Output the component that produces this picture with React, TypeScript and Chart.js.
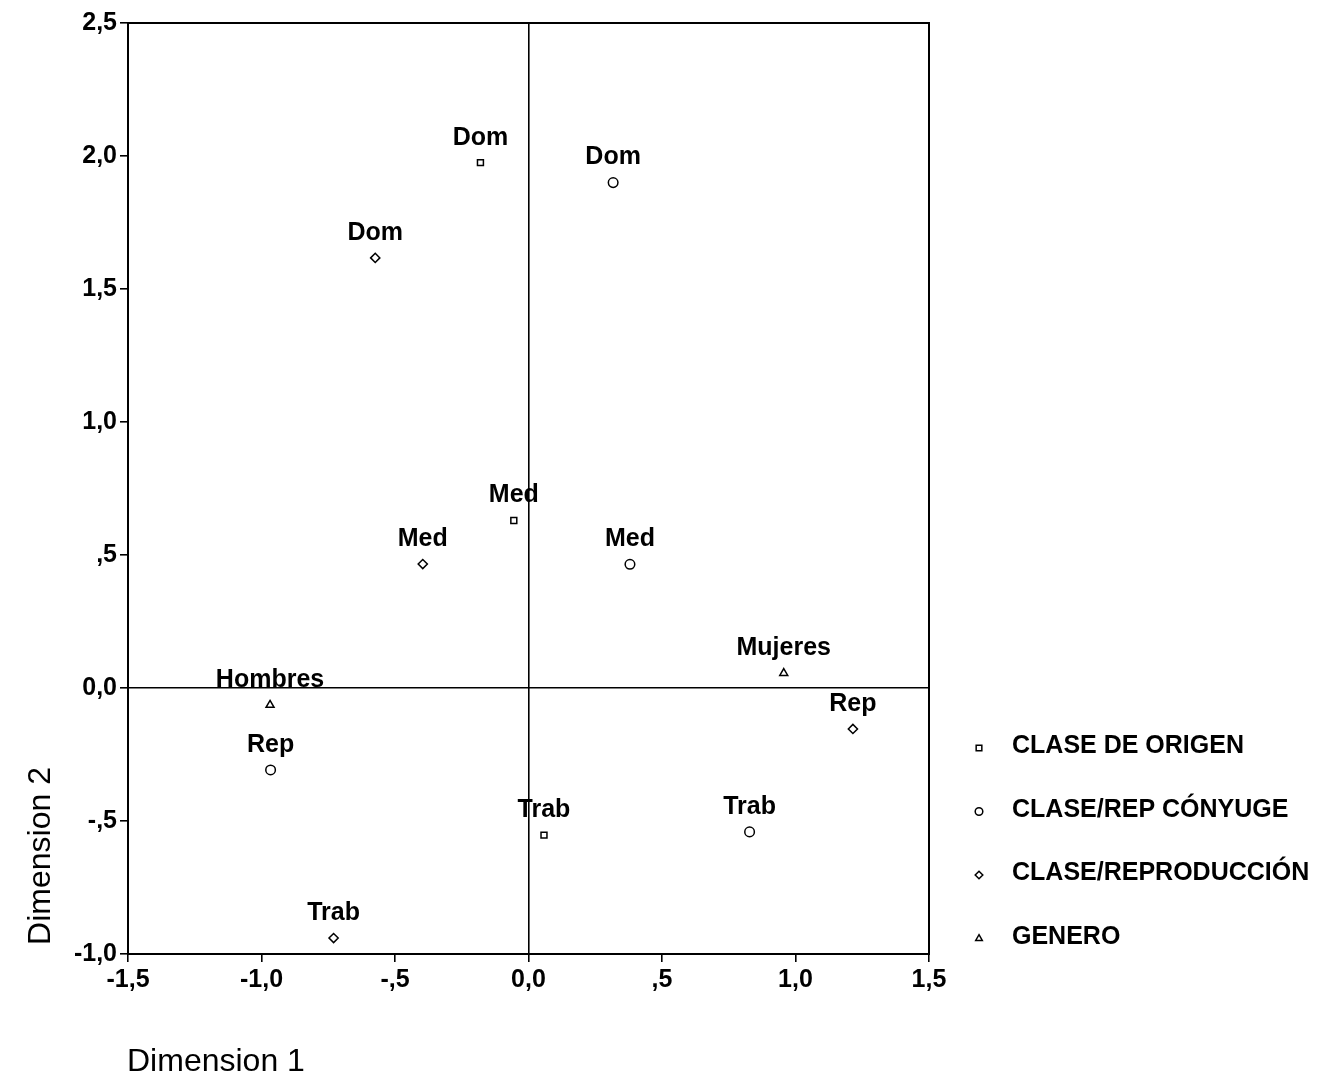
import React, { useEffect, useRef } from "react";
import { Chart, registerables } from "chart.js";

Chart.register(...registerables);

const seriesNames = ["CLASE DE ORIGEN", "CLASE/REP CÓNYUGE", "CLASE/REPRODUCCIÓN", "GENERO"];

const origenLabels = ["Dom", "Med", "Trab"];
const origenX = [-0.18, -0.055, 0.058];
const origenY = [1.975, 0.63, -0.553];

const conyugeLabels = ["Dom", "Med", "Rep", "Trab"];
const conyugeX = [0.317, 0.38, -0.966, 0.828];
const conyugeY = [1.9, 0.465, -0.308, -0.541];

const reproLabels = ["Dom", "Med", "Rep", "Trab"];
const reproX = [-0.574, -0.396, 1.215, -0.73];
const reproY = [1.617, 0.466, -0.154, -0.94];

const generoLabels = ["Hombres", "Mujeres"];
const generoX = [-0.968, 0.956];
const generoY = [-0.064, 0.056];

const xTickLabels = ["-1,5", "-1,0", "-,5", "0,0", ",5", "1,0", "1,5"];
const yTickLabels = ["-1,0", "-,5", "0,0", ",5", "1,0", "1,5", "2,0", "2,5"];

const xTitle = "Dimension 1";
const yTitle = "Dimension 2";

const FONT = "'Liberation Sans', Arial, Helvetica, sans-serif";
const pointStyles = ["rect", "circle", "rectRot", "triangle"];
const pointRadii = [4.2, 4.8, 4.6, 4.6];

function toPoints(xs: number[], ys: number[]) {
  return xs.map((x, i) => ({ x, y: ys[i] }));
}

function drawMarker(ctx: CanvasRenderingContext2D, style: string, x: number, y: number, r: number) {
  ctx.beginPath();
  if (style === "rect") {
    const s = r * Math.SQRT1_2;
    ctx.rect(x - s, y - s, 2 * s, 2 * s);
  } else if (style === "circle") {
    ctx.arc(x, y, r, 0, Math.PI * 2);
  } else if (style === "rectRot") {
    ctx.moveTo(x, y - r);
    ctx.lineTo(x + r, y);
    ctx.lineTo(x, y + r);
    ctx.lineTo(x - r, y);
    ctx.closePath();
  } else {
    ctx.moveTo(x, y - r);
    ctx.lineTo(x + r * 0.866, y + r * 0.5);
    ctx.lineTo(x - r * 0.866, y + r * 0.5);
    ctx.closePath();
  }
  ctx.fillStyle = "#fff";
  ctx.fill();
  ctx.strokeStyle = "#000";
  ctx.lineWidth = 1.5;
  ctx.stroke();
}

const decorPlugin = {
  id: "decor",
  afterDatasetsDraw(chart: any) {
    const ctx: CanvasRenderingContext2D = chart.ctx;
    const { left, right, top, bottom } = chart.chartArea;
    ctx.save();
    // frame
    ctx.strokeStyle = "#000";
    ctx.lineWidth = 2;
    ctx.strokeRect(left, top, right - left, bottom - top);
    // point labels
    ctx.fillStyle = "#000";
    ctx.font = `bold 25px ${FONT}`;
    ctx.textAlign = "center";
    ctx.textBaseline = "middle";
    chart.data.datasets.forEach((ds: any, di: number) => {
      const meta = chart.getDatasetMeta(di);
      meta.data.forEach((el: any, i: number) => {
        ctx.fillText(ds.pointLabels[i], el.x, el.y - 25);
      });
    });
    // legend
    const legendMarkerX = 979;
    const legendTextX = 1012;
    const baseline0 = 753;
    const step = 63.5;
    ctx.textAlign = "left";
    ctx.textBaseline = "alphabetic";
    ctx.font = `bold 25px ${FONT}`;
    chart.data.datasets.forEach((ds: any, di: number) => {
      const bl = baseline0 + di * step;
      drawMarker(ctx, pointStyles[di], legendMarkerX, bl - 5, di === 0 ? 4.0 : 3.8);
      ctx.fillStyle = "#000";
      ctx.fillText(ds.label, legendTextX, bl);
    });
    // axis titles
    ctx.font = `32px ${FONT}`;
    ctx.fillStyle = "#000";
    ctx.textAlign = "left";
    ctx.fillText(xTitle, 127, 1071);
    ctx.translate(50, 856);
    ctx.rotate(-Math.PI / 2);
    ctx.textAlign = "center";
    ctx.fillText(yTitle, 0, 0);
    ctx.restore();
  },
};

export default function App() {
  const canvasRef = useRef<HTMLCanvasElement | null>(null);

  useEffect(() => {
    const canvas = canvasRef.current;
    if (!canvas) return;
    const allLabels = [origenLabels, conyugeLabels, reproLabels, generoLabels];
    const allData = [
      toPoints(origenX, origenY),
      toPoints(conyugeX, conyugeY),
      toPoints(reproX, reproY),
      toPoints(generoX, generoY),
    ];
    const datasets = seriesNames.map((name, i) => ({
      label: name,
      data: allData[i],
      pointLabels: allLabels[i],
      pointStyle: pointStyles[i],
      pointRadius: pointRadii[i],
      pointBackgroundColor: "#fff",
      pointBorderColor: "#000",
      pointBorderWidth: 1.5,
      showLine: false,
    }));

    const gridColor = (c: any) => (c.tick && Math.abs(c.tick.value) < 1e-9 ? "#000" : "rgba(0,0,0,0)");

    const chart = new Chart(canvas, {
      type: "scatter",
      data: { datasets: datasets as any },
      options: {
        animation: false,
        responsive: false,
        maintainAspectRatio: false,
        layout: { padding: { top: 23, right: 391, left: 0, bottom: 0 } },
        plugins: { legend: { display: false }, tooltip: { enabled: false } },
        scales: {
          x: {
            type: "linear",
            min: -1.5,
            max: 1.5,
            afterFit: (s: any) => {
              s.height = 123;
            },
            ticks: {
              stepSize: 0.5,
              color: "#000",
              padding: 3,
              maxRotation: 0,
              font: { family: FONT, size: 25, weight: "bold" },
              callback: (_v: any, i: number) => xTickLabels[i],
            },
            grid: {
              color: gridColor,
              lineWidth: 1.6,
              tickColor: "#000",
              tickLength: 8,
              drawTicks: true,
            },
            border: { display: true, color: "#000", width: 2 },
          },
          y: {
            type: "linear",
            min: -1.0,
            max: 2.5,
            afterFit: (s: any) => {
              s.width = 128;
            },
            ticks: {
              stepSize: 0.5,
              color: "#000",
              padding: 3,
              font: { family: FONT, size: 25, weight: "bold" },
              callback: (_v: any, i: number) => yTickLabels[i],
            },
            grid: {
              color: gridColor,
              lineWidth: 1.6,
              tickColor: "#000",
              tickLength: 8,
              drawTicks: true,
            },
            border: { display: true, color: "#000", width: 2 },
          },
        },
      },
      plugins: [decorPlugin],
    });
    return () => chart.destroy();
  }, []);

  return (
    <div style={{ position: "absolute", left: 0, top: 0, width: 1320, height: 1077, background: "#fff" }}>
      <canvas ref={canvasRef} width={1320} height={1077} style={{ display: "block" }} />
    </div>
  );
}
